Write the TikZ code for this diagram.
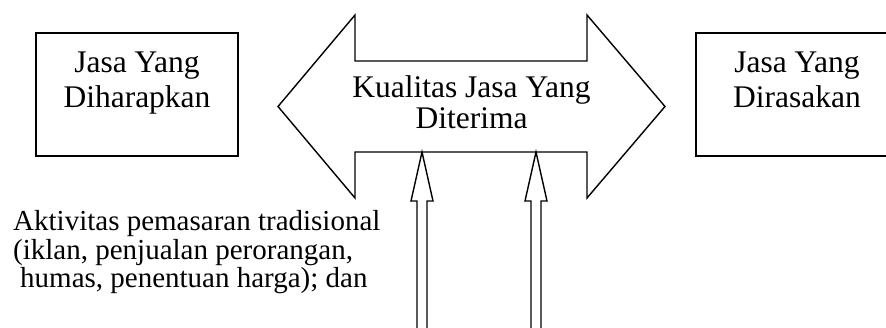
\documentclass[tikz,border=0pt]{standalone}
\usepackage{fontspec}
\setmainfont{Liberation Serif}
\begin{document}
\begin{tikzpicture}[x=1pt,y=-1pt,
  ln/.style={line width=1.4pt,line join=miter},
  boxst/.style={draw,line width=1.4pt,minimum width=202pt,minimum height=123pt,inner sep=0pt},
  bigtxt/.style={font=\fontsize{31.5}{35}\selectfont,anchor=base,inner sep=0pt},
  smalltxt/.style={font=\fontsize{29}{29}\selectfont,anchor=base west,inner sep=0pt}]
\useasboundingbox (0,0) rectangle (886,327);
% boxes
\node[boxst] (exp) at (137,94.5) {};
\node[bigtxt] (exp1) at (137,72) {Jasa Yang};
\node[bigtxt] (exp2) at (137,107) {Diharapkan};
\node[boxst] (per) at (797,94.5) {};
\node[bigtxt] (per1) at (797,72) {Jasa Yang};
\node[bigtxt] (per2) at (797,107) {Dirasakan};
% big double arrow
\coordinate (lt) at (278,106.5);
\coordinate (rt) at (665,106.5);
\draw[ln] (lt) -- (355,15) -- (355,61) -- (587,61) -- (587,15) -- (rt)
  -- (587,198) -- (587,152) -- (355,152) -- (355,198) -- cycle;
\node[bigtxt] (q1) at (471.5,97) {Kualitas Jasa Yang};
\node[bigtxt] (q2) at (471.5,128) {Diterima};
% vertical open arrows
\coordinate (t1) at (422,152);
\coordinate (t2) at (536,152);
\draw[ln] (417,335) -- (417,201) -- (411,201) -- (t1) -- (433,201) -- (427,201) -- (427,335);
\draw[ln] (531,335) -- (531,201) -- (525,201) -- (t2) -- (547,201) -- (541,201) -- (541,335);
% lower text
\node[smalltxt] (a1) at (13,230) {Aktivitas pemasaran tradisional};
\node[smalltxt] (a2) at (13,259) {(iklan, penjualan perorangan,};
\node[smalltxt] (a3) at (20,287) {humas, penentuan harga); dan};
\end{tikzpicture}
\end{document}
